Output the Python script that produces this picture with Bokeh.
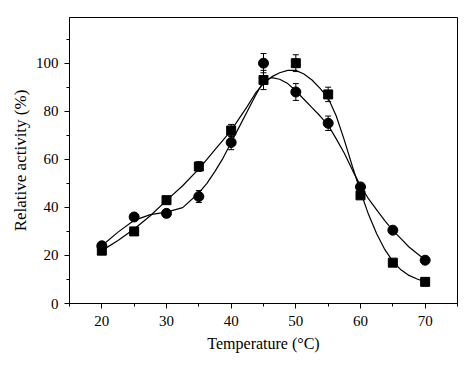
from bokeh.plotting import figure
from bokeh.models import Range1d, SingleIntervalTicker, Whisker, ColumnDataSource
from bokeh.embed import file_html
from bokeh.resources import INLINE

# Measured data
temps = [20, 25, 30, 35, 40, 45, 50, 55, 60, 65, 70]
circle_vals = [24, 36, 37.5, 44.5, 67, 100, 88, 75, 48.5, 30.5, 18]
circle_err = [1, 1, 1.5, 2.5, 3, 4, 3.5, 3, 1.5, 0.5, 0.5]
square_vals = [22, 30, 43, 57, 72, 93, 100, 87, 45, 17, 9]
square_err = [1, 1, 1.5, 2, 2.5, 4, 3.5, 3, 1.5, 0.5, 0.5]

# Fitted curves
curve_t = [20, 22.5, 25, 27.5, 30, 32.5, 35, 36.25, 37.5, 38.75, 40, 41.25, 42.5, 43.75,
           45, 46.25, 47.5, 48.75, 50, 51.25, 52.5, 53.75, 55, 56.25, 57.5, 58.75, 60,
           61.25, 62.5, 63.75, 65, 66.25, 67.5, 68.75, 70]
circle_fit = [24, 29.7, 34.6, 37, 38, 39.9, 46, 50, 55, 60.5, 67, 73.5, 80, 86.5,
              92.5, 94, 93.3, 91.5, 88.5, 85, 81.5, 78, 74.2, 68.5, 62.5, 55.5, 49,
              43.5, 39, 34.5, 30.4, 27, 23.5, 20.8, 18.2]
square_fit = [22, 26.2, 31, 36.5, 42.9, 49, 56, 60, 64, 68, 72, 77, 82, 87.5,
              91.5, 94.3, 96, 97, 97, 95.5, 93, 89.5, 85.5, 78, 68, 57, 46.5,
              37, 29, 22.5, 17.5, 14, 11.7, 10.2, 9]

x_ticks_major = 10
y_ticks_major = 20

font = "Liberation Serif"

p = figure(width=466, height=363, output_backend="svg", toolbar_location=None,
           x_range=Range1d(15, 75), y_range=Range1d(0, 119),
           min_border_left=69, min_border_right=9, min_border_top=17, min_border_bottom=60)
p.grid.visible = False
p.outline_line_color = "black"
p.outline_line_width = 1
p.background_fill_color = "white"
p.border_fill_color = "white"

p.xaxis.ticker = SingleIntervalTicker(interval=x_ticks_major, num_minor_ticks=2)
p.yaxis.ticker = SingleIntervalTicker(interval=y_ticks_major, num_minor_ticks=2)
for ax in (p.xaxis, p.yaxis):
    ax.axis_line_color = "black"
    ax.major_tick_line_color = "black"
    ax.minor_tick_line_color = "black"
    ax.major_tick_out = 5
    ax.major_tick_in = 0
    ax.minor_tick_out = 3
    ax.minor_tick_in = 0
    ax.major_label_text_font = font
    ax.major_label_text_font_size = "15px"
    ax.major_label_text_color = "black"
    ax.axis_label_text_font = font
    ax.axis_label_text_font_style = "normal"
    ax.axis_label_text_color = "black"
p.xaxis.axis_label = "Temperature (°C)"
p.yaxis.axis_label = "Relative activity (%)"
p.xaxis.axis_label_text_font_size = "16px"
p.yaxis.axis_label_text_font_size = "17px"
p.xaxis.major_label_standoff = 7
p.yaxis.major_label_standoff = 6
p.xaxis.axis_label_standoff = 6
p.yaxis.axis_label_standoff = 3

# fit curves
p.line(curve_t, circle_fit, line_color="black", line_width=1.2)
p.line(curve_t, square_fit, line_color="black", line_width=1.2)

src_c = ColumnDataSource(dict(x=temps, y=circle_vals,
                              lo=[v - e for v, e in zip(circle_vals, circle_err)],
                              hi=[v + e for v, e in zip(circle_vals, circle_err)]))
src_s = ColumnDataSource(dict(x=temps, y=square_vals,
                              lo=[v - e for v, e in zip(square_vals, square_err)],
                              hi=[v + e for v, e in zip(square_vals, square_err)]))
for src in (src_c, src_s):
    w = Whisker(source=src, base="x", lower="lo", upper="hi", line_color="black", line_width=1)
    w.upper_head.size = 6
    w.lower_head.size = 6
    w.upper_head.line_color = "black"
    w.lower_head.line_color = "black"
    p.add_layout(w)

p.scatter("x", "y", source=src_c, marker="circle", size=10, fill_color="black", line_color="black")
p.scatter("x", "y", source=src_s, marker="square", size=9, fill_color="black", line_color="black")

open("out.html", "w").write(file_html(p, INLINE))
